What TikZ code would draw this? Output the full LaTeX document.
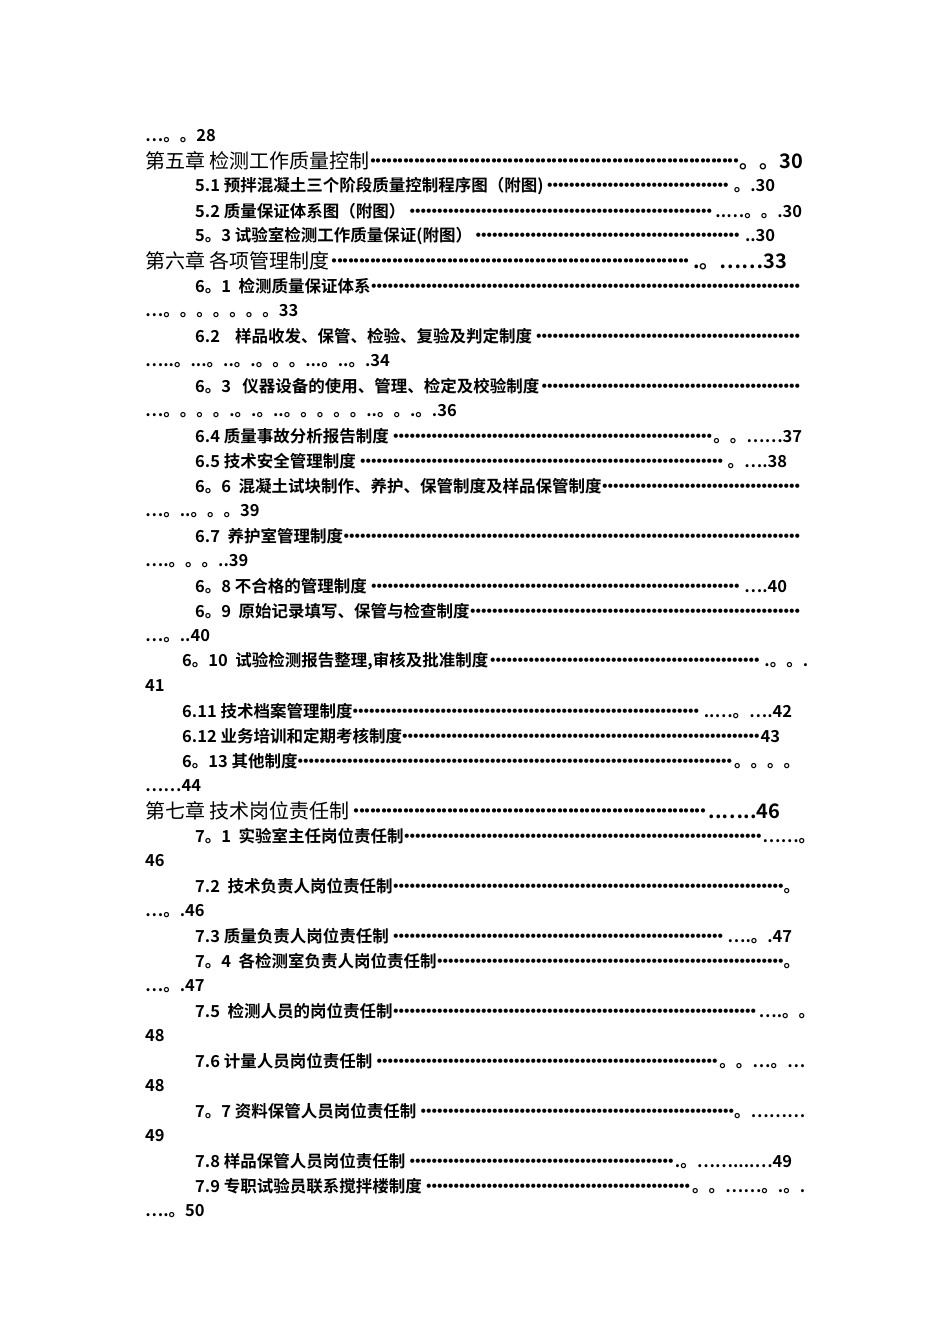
\documentclass[tikz,border=0pt]{standalone}
\usepackage{fontspec}
\setmainfont{Noto Sans CJK SC}[BoldFont={* Bold}]
\newcommand{\dts}{\leaders\hbox to 5.5pt{\hss·\hss}\hfill}
\newcommand{\TL}[5]{\node[anchor=west,inner sep=0] (n#2) at (#1pt,-#2pt) {\hbox to \dimexpr#3pt-#1pt\relax{#4\dts #5}};}
\newcommand{\CH}[5]{\node[anchor=west,inner sep=0,font=\fontsize{20}{20}\selectfont] (n#2) at (#1pt,-#2pt) {\hbox to \dimexpr#3pt-#1pt\relax{#4\dts \bfseries #5}};}
\newcommand{\TT}[3]{\node[anchor=west,inner sep=0] (n#2) at (#1pt,-#2pt) {#3};}
\begin{document}
\begin{tikzpicture}[font=\bfseries\fontsize{16.5}{17}\selectfont]
\useasboundingbox (0,0) rectangle (950pt,-1344pt);
\TT{145}{136}{…。。28}
\CH{145}{161}{803}{第五章\ 检测工作质量控制}{。。30}
\TL{195}{186}{775}{5.1\ 预拌混凝土三个阶段质量控制程序图（附图)}{。.30}
\TL{195}{211}{802}{5.2\ 质量保证体系图（附图）}{..…。。.30}
\TL{195}{236}{775}{5。3\ 试验室检测工作质量保证(附图）}{..30}
\CH{145}{261}{787}{第六章\ 各项管理制度}{.。……33}
\TL{195}{286}{805}{6。1\ \ 检测质量保证体系}{}
\TT{145}{311}{…。。。。。。。33}
\TL{195}{336}{805}{6.2\ \ \ \ 样品收发、保管、检验、复验及判定制度}{}
\TT{145}{361}{…..。...。..。.。。。...。..。.34}
\TL{195}{386}{805}{6。3\ \ \ 仪器设备的使用、管理、检定及校验制度}{}
\TT{145}{411}{…。。。。.。.。..。。。。。..。。.。.36}
\TL{195}{436}{802}{6.4\ 质量事故分析报告制度}{。。……37}
\TL{195}{461}{787}{6.5\ 技术安全管理制度}{。….38}
\TL{195}{486}{805}{6。6\ \ 混凝土试块制作、养护、保管制度及样品保管制度}{}
\TT{145}{511}{…。..。。。39}
\TL{195}{536}{805}{6.7\ \ 养护室管理制度}{}
\TT{145}{561}{….。。。..39}
\TL{195}{586}{787}{6。8\ 不合格的管理制度}{….40}
\TL{195}{611}{805}{6。9\ \ 原始记录填写、保管与检查制度}{}
\TT{145}{636}{…。..40}
\TL{182}{661}{808}{6。10\ \ 试验检测报告整理,审核及批准制度}{.。。.}
\TT{145}{686}{41}
\TL{182}{711}{792}{6.11\ 技术档案管理制度}{..…。….42}
\TL{182}{736}{780}{6.12\ 业务培训和定期考核制度}{43}
\TL{182}{761}{800}{6。13\ 其他制度}{。。。。}
\TT{145}{786}{……44}
\CH{145}{811}{780}{第七章\ 技术岗位责任制}{..…..46}
\TL{195}{836}{815}{7。1\ \ 实验室主任岗位责任制}{……。}
\TT{145}{861}{46}
\TL{195}{886}{800}{7.2\ \ 技术负责人岗位责任制}{。}
\TT{145}{911}{…。.46}
\TL{195}{936}{792}{7.3\ 质量负责人岗位责任制}{….。.47}
\TL{195}{961}{800}{7。4\ \ 各检测室负责人岗位责任制}{。}
\TT{145}{986}{…。.47}
\TL{195}{1011}{815}{7.5\ \ 检测人员的岗位责任制}{….。。}
\TT{145}{1036}{48}
\TL{195}{1061}{805}{7.6\ 计量人员岗位责任制}{。。…。…}
\TT{145}{1086}{48}
\TL{195}{1111}{805}{7。7\ 资料保管人员岗位责任制}{。………}
\TT{145}{1136}{49}
\TL{195}{1161}{792}{7.8\ 样品保管人员岗位责任制}{.。……....…49}
\TL{195}{1186}{805}{7.9\ 专职试验员联系搅拌楼制度}{。。……。.。.}
\TT{145}{1211}{….。50}
\end{tikzpicture}
\end{document}
